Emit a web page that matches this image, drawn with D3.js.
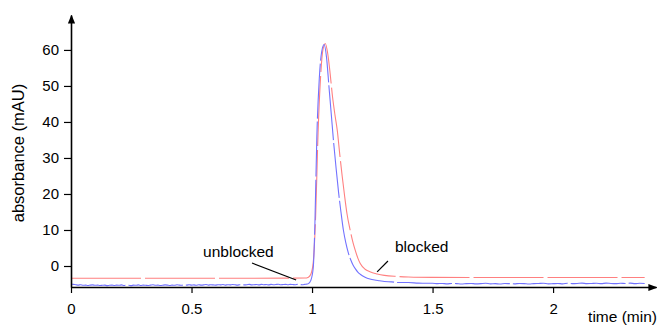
<!DOCTYPE html>
<html>
<head>
<meta charset="utf-8">
<script src="https://cdn.jsdelivr.net/npm/d3@7"></script>
<style>
  html, body { margin: 0; padding: 0; background: #fff; }
  svg { display: block; font-family: "Liberation Sans", Arial, sans-serif; }
</style>
</head>
<body>
<svg id="chart" width="660" height="327"></svg>
<script>
// Tick labels
const xTicks = [0, 0.5, 1, 1.5, 2];
const yTicks = [0, 10, 20, 30, 40, 50, 60];

// Unblocked trace (blue): baseline sampled every 0.01 min from 0.00 to 0.98
const unblockedLead = [
  -5.0,-5.1,-5.2,-5.3,-5.2,-5.35,-5.3,-5.4,-5.3,-5.25,
  -5.35,-5.3,-5.4,-5.35,-5.3,-5.45,-5.35,-5.3,-5.4,-5.3,
  -5.35,-5.25,-5.4,-5.3,-5.35,-5.45,-5.3,-5.35,-5.25,-5.4,
  -5.3,-5.35,-5.4,-5.3,-5.2,-5.35,-5.3,-5.4,-5.35,-5.25,
  -5.3,-5.4,-5.3,-5.35,-5.2,-5.3,-5.35,-5.25,-5.3,-5.2,
  -5.3,-5.25,-5.35,-5.2,-5.3,-5.25,-5.15,-5.3,-5.2,-5.25,
  -5.3,-5.2,-5.25,-5.15,-5.3,-5.2,-5.25,-5.15,-5.2,-5.3,
  -5.2,-5.15,-5.25,-5.2,-5.1,-5.25,-5.2,-5.15,-5.25,-5.1,
  -5.2,-5.15,-5.25,-5.1,-5.2,-5.15,-5.05,-5.2,-5.15,-5.1,
  -5.2,-5.1,-5.15,-5.2,-5.1,-5.15,-5.2,-5.1,-5.0
];
// Unblocked peak region: [time (min), absorbance (mAU)]
const unblockedPeak = [
  [0.985,-4.9],[0.995,-4.0],[1.005,-0.5],[1.012,12],[1.02,36],[1.03,52],
  [1.04,59.5],[1.05,61.5],[1.06,58],[1.07,50],[1.08,42],[1.09,34],
  [1.10,27],[1.11,20.5],[1.12,15],[1.13,10],[1.14,6.5],[1.15,3.8],
  [1.16,1.8],[1.17,0.3],[1.18,-0.8],[1.19,-1.7],[1.20,-2.3],[1.22,-3.1],
  [1.24,-3.6],[1.26,-3.9],[1.28,-4.1],[1.30,-4.3],[1.33,-4.4],[1.36,-4.6],
  [1.40,-4.6],[1.44,-4.75],[1.48,-4.8]
];
// Unblocked tail sampled every 0.02 min from 1.50 to 2.38
const unblockedTail = [
  -4.8,-4.9,-4.85,-4.95,-4.85,-4.9,-5.0,-4.9,-4.85,-4.95,
  -4.9,-4.8,-4.95,-4.9,-5.0,-4.85,-4.9,-4.95,-4.85,-4.9,
  -5.0,-4.9,-4.85,-4.8,-4.95,-4.9,-4.85,-4.95,-4.8,-4.9,
  -4.85,-4.75,-4.9,-4.85,-4.8,-4.9,-4.75,-4.85,-4.9,-4.8,
  -4.85,-4.75,-4.9,-4.8,-4.85
];

// Blocked trace (red): [time (min), absorbance (mAU)]
const blocked = [
  [0,-3.4],[0.5,-3.4],[0.97,-3.35],[0.985,-3.1],[0.995,-2.3],[1.005,1],
  [1.015,14],[1.025,37],[1.035,52],[1.045,60],[1.055,61.8],[1.065,59],
  [1.075,53.5],[1.085,47],[1.095,42],[1.105,37.5],[1.115,31],[1.125,25],
  [1.135,19.5],[1.145,14.5],[1.158,10],[1.17,6.5],[1.18,4.2],[1.19,2.2],
  [1.20,0.7],[1.22,-0.9],[1.24,-1.6],[1.27,-2.2],[1.30,-2.6],[1.35,-2.9],
  [1.40,-3.05],[1.50,-3.15],[1.80,-3.2],[2.38,-3.2]
];

const unblocked = []
  .concat(unblockedLead.map((v, i) => [i * 0.01, v]))
  .concat(unblockedPeak)
  .concat(unblockedTail.map((v, i) => [1.5 + i * 0.02, v]));

const svg = d3.select("#chart");

const x = d3.scaleLinear().domain([0, 2.427]).range([71, 656]);
const y = d3.scaleLinear().domain([-5.83, 69.7]).range([287, 15]);

// Arrow heads for the axes
svg.append("defs").append("marker")
  .attr("id", "arrow")
  .attr("viewBox", "0 0 10 10")
  .attr("refX", 9).attr("refY", 5)
  .attr("markerWidth", 9).attr("markerHeight", 9)
  .attr("markerUnits", "userSpaceOnUse")
  .attr("orient", "auto")
  .append("path").attr("d", "M0,1 L10,5 L0,9 Z").attr("fill", "#000");

// Traces (occasional short breaks, as on the recorder output)
const line = d3.line().x(d => x(d[0])).y(d => y(d[1])).curve(d3.curveMonotoneX);

svg.append("path").datum(blocked)
  .attr("d", line).attr("fill", "none")
  .attr("stroke", "#ff8080").attr("stroke-width", 1.1)
  .attr("stroke-dasharray", "70,4");

svg.append("path").datum(unblocked)
  .attr("d", line).attr("fill", "none")
  .attr("stroke", "#7272ff").attr("stroke-width", 1.1)
  .attr("stroke-dasharray", "55,3");

// Axes
const xAxis = svg.append("g").attr("transform", `translate(0,${y(-5.83)})`)
  .call(d3.axisBottom(x).tickValues(xTicks).tickFormat(d3.format("~g"))
    .tickSize(6).tickSizeOuter(0).tickPadding(10));
const yAxis = svg.append("g").attr("transform", `translate(${x(0)},0)`)
  .call(d3.axisLeft(y).tickValues(yTicks).tickSize(7).tickSizeOuter(0).tickPadding(5));

[xAxis, yAxis].forEach(g => {
  g.select(".domain").attr("stroke", "#000").attr("stroke-width", 1.6)
    .attr("marker-end", "url(#arrow)");
  g.selectAll(".tick line").attr("stroke", "#000").attr("stroke-width", 1.2);
  g.selectAll(".tick text").attr("fill", "#000").attr("font-size", 15)
    .attr("font-family", "Liberation Sans, Arial, sans-serif");
});

// Axis titles
svg.append("text")
  .attr("transform", `translate(24,${(y(69.7) + y(-5.83)) / 2 + 2}) rotate(-90)`)
  .attr("text-anchor", "middle").attr("font-size", 16.5).attr("fill", "#000")
  .text("absorbance (mAU)");

svg.append("text")
  .attr("x", 657).attr("y", 322).attr("text-anchor", "end")
  .attr("font-size", 15.5).attr("fill", "#000")
  .text("time (min)");

// Trace annotations with leader lines
const notes = [
  { text: "unblocked", at: [0.548, 2.5], from: [0.751, 0.83], to: [0.934, -3.9] },
  { text: "blocked", at: [1.344, 3.9], from: [1.315, 1.4], to: [1.27, -1.65] }
];
notes.forEach(n => {
  svg.append("line")
    .attr("x1", x(n.from[0])).attr("y1", y(n.from[1]))
    .attr("x2", x(n.to[0])).attr("y2", y(n.to[1]))
    .attr("stroke", "#000").attr("stroke-width", 1.2);
  svg.append("text")
    .attr("x", x(n.at[0])).attr("y", y(n.at[1]))
    .attr("font-size", 15.5).attr("fill", "#000")
    .text(n.text);
});
</script>
</body>
</html>
